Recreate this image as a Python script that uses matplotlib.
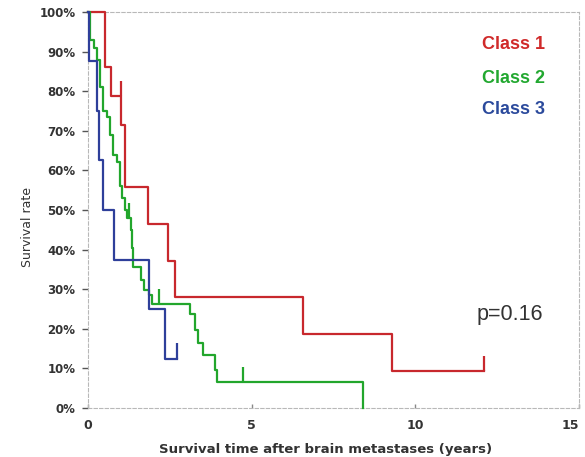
import numpy as np
import matplotlib
matplotlib.use("Agg")
import matplotlib.pyplot as plt
from matplotlib.ticker import FuncFormatter

# Kaplan-Meier steps (years, survival % after the event)
class1_times = [0.53, 0.69, 1.01, 1.13, 1.84, 2.45, 2.66, 6.58, 9.28]
class1_surv = [86.1, 78.9, 71.5, 55.7, 46.5, 37.2, 28.0, 18.7, 9.4]
class1_censor = [1.0, 12.11]
class1_end = 12.11

class2_times = [0.05, 0.18, 0.28, 0.37, 0.46, 0.58, 0.67, 0.76, 0.89, 0.98,
                1.05, 1.12, 1.20, 1.30, 1.34, 1.39, 1.62, 1.72, 1.85, 1.95,
                3.12, 3.27, 3.37, 3.52, 3.88, 3.93, 8.41]
class2_surv = [93.0, 91.0, 88.0, 81.0, 75.0, 73.5, 69.0, 64.0, 62.0, 56.0,
               53.0, 50.0, 48.0, 45.0, 40.5, 35.5, 32.4, 29.9, 28.6, 26.3,
               23.8, 19.7, 16.4, 13.4, 9.6, 6.5, 0.0]
class2_censor = [1.25, 2.17, 4.74]
class2_end = 8.41

class3_times = [0.04, 0.27, 0.34, 0.45, 0.79, 1.87, 2.35]
class3_surv = [87.5, 75.0, 62.5, 50.0, 37.5, 25.0, 12.5]
class3_censor = [2.71]
class3_end = 2.71

labels = ["Class 1", "Class 2", "Class 3"]
line_colors = ["#c8282d", "#22a62c", "#2e3f9a"]
text_colors = ["#d02a2a", "#22a830", "#2b4a9c"]
p_text = "p=0.16"

x_ticks = [0, 5, 10, 15]
y_ticks = np.arange(0, 101, 10)

fig = plt.figure(figsize=(5.85, 4.57), dpi=100)
ax = fig.add_axes([88 / 585, 49 / 457, 491 / 585, 396 / 457])

series = [
    (class1_times, class1_surv, class1_censor, class1_end),
    (class2_times, class2_surv, class2_censor, class2_end),
    (class3_times, class3_surv, class3_censor, class3_end),
]

for (times, surv, censor, end), color in zip(series, line_colors):
    xs = [0] + times + [end]
    ys = [100] + surv + [surv[-1]]
    ax.step(xs, ys, where="post", color=color, lw=1.6, clip_on=False, zorder=3)
    # censor marks: short upward ticks at the current level
    for c in censor:
        idx = np.searchsorted(times, c, side="right")
        level = 100 if idx == 0 else surv[idx - 1]
        ax.vlines(c, level, level + 3.8, color=color, lw=1.6, zorder=3)

for lab, color, yy in zip(labels, text_colors, [91.7, 83.3, 75.3]):
    ax.text(12.04, yy, lab, color=color, fontsize=13, fontweight="bold",
            family="Liberation Sans", va="center", ha="left")

ax.text(11.88, 23.5, p_text, color="#333333", fontsize=15.5,
        family="Liberation Sans", va="center", ha="left")

ax.set_xlim(0, 15)
ax.set_ylim(0, 100)
ax.set_xticks(x_ticks)
ax.set_yticks(y_ticks)
ax.yaxis.set_major_formatter(FuncFormatter(lambda v, _: f"{int(v)}%"))

for side in ["left", "bottom", "top", "right"]:
    ax.spines[side].set_color("#b8b8b8")
    ax.spines[side].set_linestyle((0, (3, 2)))
    ax.spines[side].set_linewidth(0.8)

ax.tick_params(axis="y", direction="out", length=4, width=1, color="#555555",
               pad=5, labelsize=8.5, labelcolor="#333333")
ax.tick_params(axis="x", direction="in", length=3, width=1, color="#888888",
               pad=8, labelsize=9, labelcolor="#333333")
for lbl in ax.get_xticklabels() + ax.get_yticklabels():
    lbl.set_fontweight("bold")
# last x label sits inside the figure, as in the original
ax.get_xticklabels()[-1].set_horizontalalignment("right")

ax.set_xlabel("Survival time after brain metastases (years)", fontsize=9.5,
              fontweight="bold", color="#333333")
ax.xaxis.set_label_coords(0.484, -0.088)
ax.set_ylabel("Survival rate", fontsize=9, color="#333333")
ax.yaxis.set_label_coords(-0.11, 0.457)

fig.savefig("out.png", dpi=100, facecolor="white")
